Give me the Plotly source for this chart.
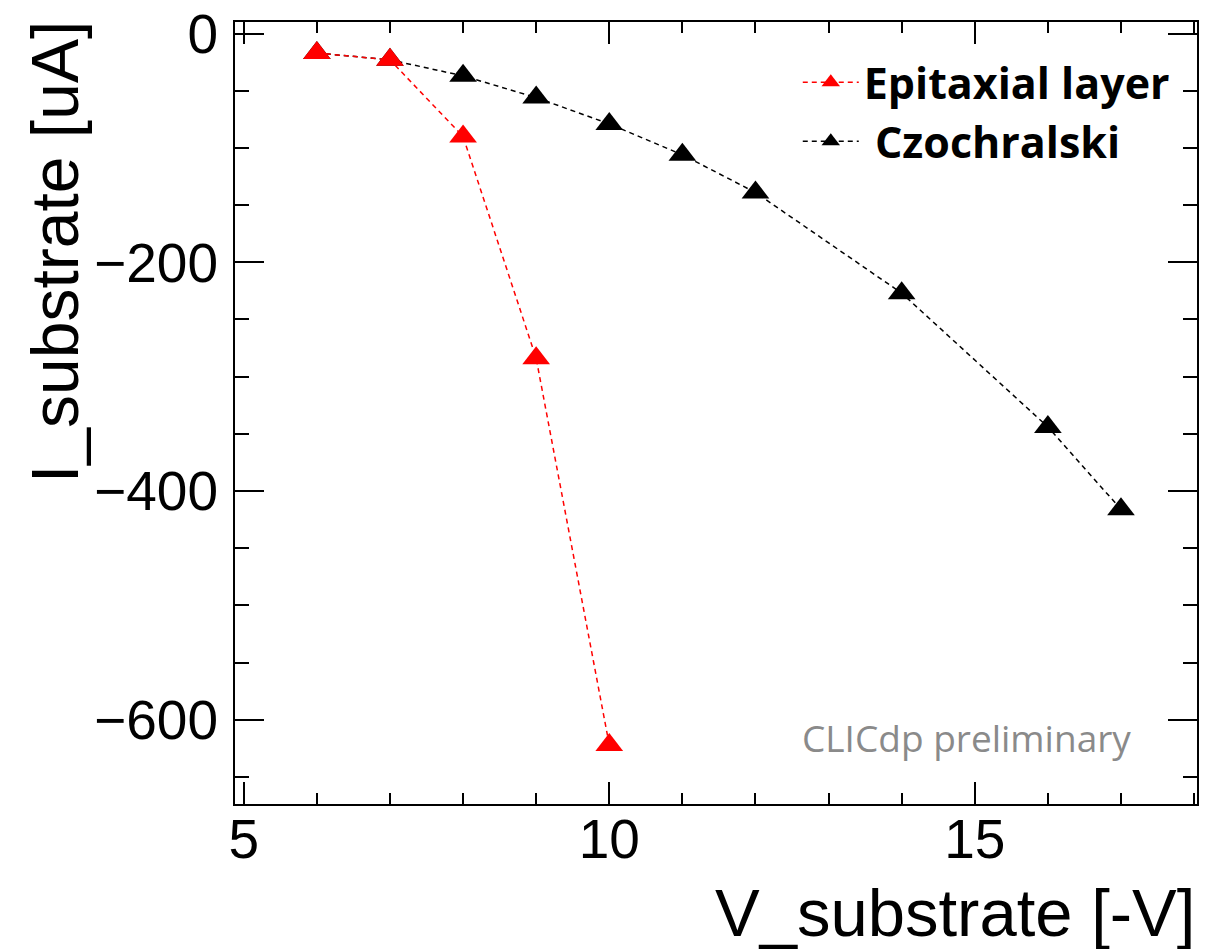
import plotly.graph_objects as go

# ---- data ----
v_epi = [6, 7, 8, 9, 10]
i_epi = [-17, -23, -90, -284, -622]

v_cz = [6, 7, 8, 9, 10, 11, 12, 14, 16, 17]
i_cz = [-17, -23, -37, -56, -79, -106, -139, -227, -344, -416]

x_tickvals = [5, 10, 15]
y_tickvals = [0, -200, -400, -600]

x_title = "V_substrate [-V]"
y_title = "I_substrate [uA]"
watermark = "CLICdp preliminary"

fig = go.Figure()

fig.add_trace(go.Scatter(
    x=v_cz, y=i_cz, mode="lines+markers", name="\u00a0Czochralski",
    line=dict(color="black", width=1.5, dash="5px,4px"),
    marker=dict(symbol="triangle-up", size=24, color="black"),
    legendrank=2, legendgroup="b",
))
fig.add_trace(go.Scatter(
    x=v_epi, y=i_epi, mode="lines+markers", name="Epitaxial layer",
    line=dict(color="#ff0000", width=1.5, dash="5px,4px"),
    marker=dict(symbol="triangle-up", size=24, color="#ff0000"),
    legendrank=1, legendgroup="a",
))

tick_font = dict(family="Liberation Sans, Arial, sans-serif", size=55, color="black")

fig.update_layout(
    width=1206, height=949,
    margin=dict(l=235, r=9, t=22, b=145, autoexpand=False),
    paper_bgcolor="white", plot_bgcolor="white",
    showlegend=True,
    legend=dict(
        x=0.585, y=0.967, xanchor="left", yanchor="top",
        bgcolor="rgba(0,0,0,0)", borderwidth=0,
        font=dict(family="Open Sans, Lato, sans-serif", size=43, color="black", weight="bold"),
        itemwidth=56, tracegroupgap=7, traceorder="normal",
    ),
    xaxis=dict(
        range=[4.88, 18.04], tickvals=x_tickvals,
        ticks="inside", ticklen=22, tickwidth=1.5, tickcolor="black",
        showline=True, linecolor="black", linewidth=2, mirror="ticks",
        showgrid=False, zeroline=False,
        tickfont=tick_font, ticklabelstandoff=-14,
        minor=dict(dtick=1, tick0=5, ticks="inside", ticklen=11, tickwidth=1.5, tickcolor="black", showgrid=False),
    ),
    yaxis=dict(
        range=[-673.7, 10.1], tickvals=y_tickvals,
        ticks="inside", ticklen=29, tickwidth=1.5, tickcolor="black",
        showline=True, linecolor="black", linewidth=2, mirror="ticks",
        showgrid=False, zeroline=False,
        tickfont=tick_font, ticklabelstandoff=4,
        minor=dict(dtick=50, tick0=0, ticks="inside", ticklen=14, tickwidth=1.5, tickcolor="black", showgrid=False),
    ),
    annotations=[
        dict(text=x_title, xref="paper", yref="paper", x=1.0, y=-0.139,
             xanchor="right", yanchor="middle", showarrow=False,
             font=dict(family="Liberation Sans, Arial, sans-serif", size=67, color="black")),
        dict(text=y_title, xref="paper", yref="paper", x=-0.1871, y=0.7059,
             xanchor="center", yanchor="middle", textangle=-90, showarrow=False,
             font=dict(family="Liberation Sans, Arial, sans-serif", size=66, color="black")),
        dict(text=watermark, xref="paper", yref="paper", x=0.9335, y=0.085,
             xanchor="right", yanchor="middle", showarrow=False,
             font=dict(family="Open Sans, Lato, sans-serif", size=37, color="#8a8a8a")),
    ],
)

fig.write_html("out.html")
